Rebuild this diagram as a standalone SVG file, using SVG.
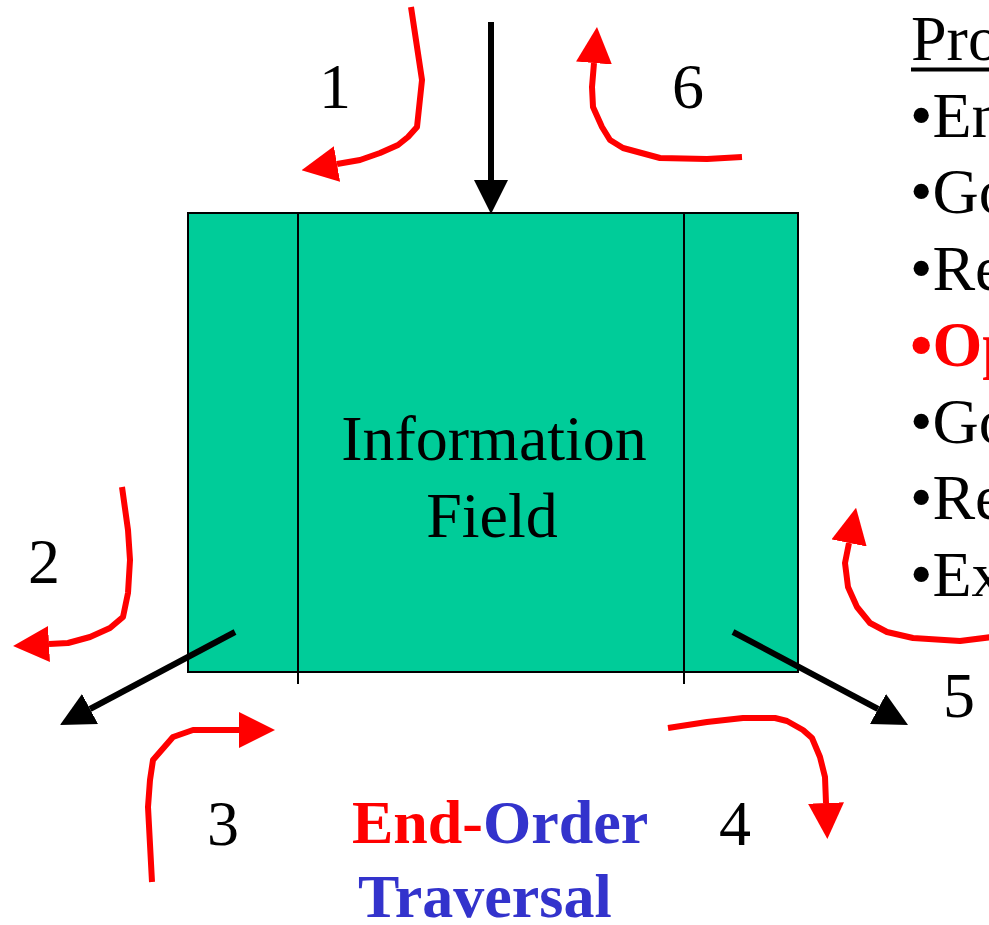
<svg xmlns="http://www.w3.org/2000/svg" width="989" height="925" viewBox="0 0 989 925">
<style>
text{font-family:"Liberation Serif","Times New Roman",serif;font-size:64px}
.num{text-anchor:middle}
.red{stroke:#FF0000;stroke-width:6;fill:none;stroke-linejoin:round}
.blk{stroke:#000;stroke-width:6;fill:none}
.bold{font-weight:bold;font-size:62px}
.cr{fill:#FF0000}
.cb{fill:#3333CC}
.hl{font-weight:bold;fill:#FF0000}
</style>
<defs>
<marker id="ra" viewBox="0 0 36 36" refX="0" refY="18" markerWidth="36" markerHeight="36" markerUnits="userSpaceOnUse" orient="auto"><path d="M0,0 L36,18 L0,36 Z" fill="#FF0000"/></marker>
<marker id="ba" viewBox="0 0 34 34" refX="0" refY="17" markerWidth="34" markerHeight="34" markerUnits="userSpaceOnUse" orient="auto"><path d="M0,0 L34,17 L0,34 Z" fill="#000"/></marker>
</defs>
<rect width="989" height="925" fill="#fff"/>
<g id="field">
<rect x="188" y="213" width="610" height="459" fill="#00CC99" stroke="#000" stroke-width="2"/>
<line x1="298" y1="213" x2="298" y2="684" stroke="#000" stroke-width="2"/>
<line x1="684" y1="213" x2="684" y2="684" stroke="#000" stroke-width="2"/>
<text x="494" y="460" class="num">Information</text>
<text x="492" y="537" class="num">Field</text>
</g>
<g id="connectors">
<path class="blk" d="M491,22 L491,180" marker-end="url(#ba)"/>
<path class="blk" d="M235,632 L90,709" marker-end="url(#ba)"/>
<path class="blk" d="M733,632 L878,709" marker-end="url(#ba)"/>
<path class="red" d="M411,7 L422,80 L417,127 L408,137 L398,145 L380,153 L360,160 L337,164" marker-end="url(#ra)"/>
<path class="red" d="M742,157 L707,159 L660,158 L623,148 L610,140 L602,127 L593,107 L592,87 L594,63" marker-end="url(#ra)"/>
<path class="red" d="M122,487 L128,530 L130,560 L128,593 L123,617 L110,628 L90,637 L68,643 L49,644" marker-end="url(#ra)"/>
<path class="red" d="M152,882 L148,807 L150,780 L153,760 L173,737 L193,730 L239,730" marker-end="url(#ra)"/>
<path class="red" d="M668,728 L707,722 L743,718 L775,718 L787,721 L803,730 L812,738 L820,757 L825,777 L826,803" marker-end="url(#ra)"/>
<path class="red" d="M1000,636 L960,641 L913,638 L887,632 L870,623 L857,607 L848,587 L845,563 L849,543" marker-end="url(#ra)"/>
</g>
<g id="labels">
<text x="335" y="108" class="num">1</text>
<text x="688" y="108" class="num">6</text>
<text x="44" y="583" class="num">2</text>
<text x="223" y="845" class="num">3</text>
<text x="735" y="845" class="num">4</text>
<text x="959" y="717" class="num">5</text>
</g>
<g id="title">
<text x="352" y="843" class="bold"><tspan class="cr">End-</tspan><tspan class="cb">Order</tspan></text>
<text x="358" y="917" class="bold cb">Traversal</text>
</g>
<g id="list">
<text x="911" y="60">Pro</text>
<line x1="911" y1="69.5" x2="989" y2="69.5" stroke="#000" stroke-width="4"/>
<text x="910" y="137">•En</text>
<text x="910" y="213">•Go</text>
<text x="910" y="290">•Re</text>
<text x="910" y="366" class="hl">•Op</text>
<text x="910" y="443">•Go</text>
<text x="910" y="519">•Re</text>
<text x="910" y="596">•Ex</text>
</g>
</svg>
